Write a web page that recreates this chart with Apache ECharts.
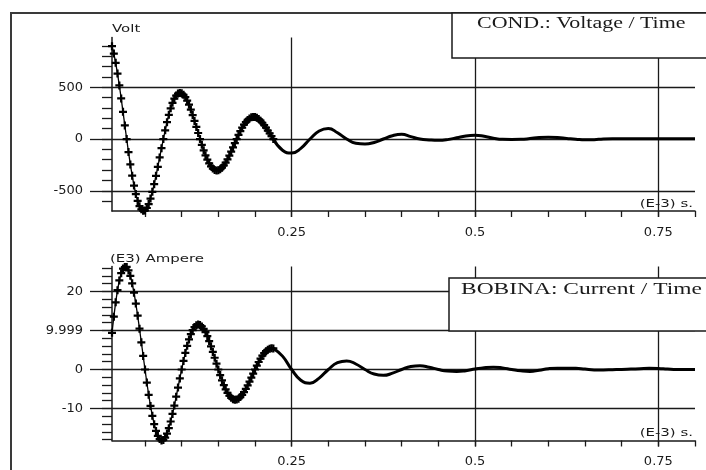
<!DOCTYPE html>
<html><head><meta charset="utf-8">
<script src="https://cdn.jsdelivr.net/npm/echarts@6/dist/echarts.min.js"></script>
<style>html,body{margin:0;padding:0;background:#fff}#c{width:706px;height:470px}</style>
</head><body><div id="c"></div>
<script>
// ---- sampling grid (time in E-3 s) ----
const MARK_T_START = 0.005, MARK_T_STEP = 0.0025;   // part drawn with "+" markers
const TAIL_T_START = 0.225, TAIL_T_STEP = 0.0125;   // later part drawn as thick line

// ---- COND.: Voltage / Time (Volt) ----
const voltMarked = [
  896, 825, 736, 632, 517, 392, 262, 131, 0, -126, -245, -354, -450, -532, -598, -648, -679, -693, -690,
  -666, -628, -575, -510, -436, -355, -268, -178, -88, 0, 84, 163, 234, 296, 349, 390, 420, 439, 445, 441,
  427, 404, 371, 331, 284, 231, 175, 117, 58, 0, -56, -109, -157, -199, -235, -264, -285, -298, -304, -302,
  -293, -277, -255, -228, -196, -160, -121, -81, -40, 0, 39, 76, 109, 139, 164, 184, 199, 209, 213, 212,
  205, 193, 177, 157, 134, 109, 82, 55, 27, 0
];
const voltTail = [
  0, -108, -136, -90, 0, 78, 102, 60, 0, -41, -48, -33, 0, 32, 45, 23, 0, -9, -13, -6,
  12, 30, 36, 26, 8, -3, -4, -3, 4, 14, 16, 14, 6, -2, -8, -6, 1, 3, 3, 2,
  2, 3, 3, 2, 2, 2, 2
];

// ---- BOBINA: Current / Time ((E3) Ampere) ----
const ampMarked = [
  9.39, 13.54, 17.21, 20.33, 22.83, 24.68, 25.86, 26.25, 26.3, 25.4, 24.01, 22.08, 19.68, 16.89, 13.78, 10.45, 6.98, 3.47, 0,
  -3.34, -6.48, -9.34, -11.87, -14.02, -15.75, -17.03, -17.84, -18.18, -18.07, -17.44, -16.41, -15.03, -13.33, -11.39, -9.25, -6.98, -4.64, -2.3, 0,
  2.19, 4.24, 6.08, 7.69, 9.04, 10.11, 10.89, 11.36, 11.53, 11.4, 11.04, 10.42, 9.58, 8.53, 7.3, 5.95, 4.51, 3.01, 1.49, 0,
  -1.44, -2.78, -4.01, -5.09, -6.0, -6.73, -7.27, -7.61, -7.75, -7.7, -7.47, -7.07, -6.5, -5.8, -4.99, -4.07, -3.09, -2.07, -1.03, 0,
  0.99, 1.92, 2.78, 3.53, 4.17, 4.69, 5.08, 5.32, 5.43, 5.4
];
const ampTail = [
  5.4, 3.43, 0, -2.76, -3.5, -2.2, 0, 1.75, 2.2, 1.41, 0, -1.17, -1.5, -0.94, 0, 0.75, 0.94, 0.57, 0, -0.41,
  -0.5, -0.3, 0.1, 0.45, 0.6, 0.4, 0, -0.35, -0.5, -0.2, 0.2, 0.35, 0.35, 0.3, 0.1, -0.1, -0.1, -0.05, 0, 0.1,
  0.2, 0.3, 0.25, 0.1, 0, 0, 0
];

// ---- axes ----
const X_MIN = 0.005, X_MAX = 0.8;
const xMinorTicks = [0.05,0.1,0.15,0.2,0.25,0.3,0.35,0.4,0.45,0.5,0.55,0.6,0.65,0.7,0.75,0.8];
const xMajorTicks = [0.25, 0.5, 0.75];
const xTickLabels = ['0.25', '0.5', '0.75'];
const V_MIN = -695, V_MAX = 980;
const voltMinorTicks = [-600,-500,-400,-300,-200,-100,0,100,200,300,400,500,600,700,800,900];
const voltMajorTicks = [-500, 0, 500];
const voltTickLabels = ['-500', '0', '500'];
const A_MIN = -18.2, A_MAX = 26.4;
const ampMinorTicks = [-18,-16,-14,-12,-10,-8,-6,-4,-2,0,2,4,6,8,10,12,14,16,18,20,22,24,26];
const ampMajorTicks = [-10, 0, 9.999, 20];
const ampTickLabels = ['-10', '0', '9.999', '20'];

const INK = '#1a1a1a';
const SANS = 'DejaVu Sans';
const SERIF = 'Liberation Serif';
const PLUS = 'path://M3.6,0H6.4V3.6H10V6.4H6.4V10H3.6V6.4H0V3.6H3.6Z';

function pair(t0, dt, vals) {
  return vals.map((v, i) => [+(t0 + i * dt).toFixed(5), v]);
}
function labelFor(vals, labels) {
  return function (v) {
    for (let i = 0; i < vals.length; i++) if (Math.abs(vals[i] - v) < 1e-6) return labels[i];
    return '';
  };
}
function xMinor(grid) {
  return { type: 'value', gridIndex: grid, position: 'bottom', min: X_MIN, max: X_MAX,
    axisLine: { show: true, onZero: false, lineStyle: { color: INK, width: 1.5 } },
    axisTick: { show: true, inside: false, length: 6, customValues: xMinorTicks, lineStyle: { color: INK, width: 1.3 } },
    axisLabel: { show: false }, splitLine: { show: false } };
}
function xMajor(grid) {
  return { type: 'value', gridIndex: grid, position: 'bottom', min: X_MIN, max: X_MAX,
    axisLine: { show: false, onZero: false },
    axisTick: { show: true, inside: false, length: 6, customValues: xMajorTicks, lineStyle: { color: INK, width: 1.3 } },
    axisLabel: { show: true, customValues: xMajorTicks, margin: 15, color: INK, fontFamily: SANS, fontSize: 13,
      formatter: labelFor(xMajorTicks, xTickLabels) },
    splitLine: { show: true, lineStyle: { color: INK, width: 1.3 } } };
}
function yMinor(grid, min, max, ticks) {
  return { type: 'value', gridIndex: grid, position: 'left', min: min, max: max,
    axisLine: { show: true, onZero: false, lineStyle: { color: INK, width: 1.5 } },
    axisTick: { show: true, inside: false, length: 10, customValues: ticks, lineStyle: { color: INK, width: 1.3 } },
    axisLabel: { show: false }, splitLine: { show: false } };
}
function yMajor(grid, min, max, ticks, labels) {
  return { type: 'value', gridIndex: grid, position: 'left', min: min, max: max,
    axisLine: { show: false, onZero: false },
    axisTick: { show: true, inside: false, length: 22, customValues: ticks, lineStyle: { color: INK, width: 1.3 } },
    axisLabel: { show: true, customValues: ticks, margin: 29, color: INK, fontFamily: SANS, fontSize: 13,
      formatter: labelFor(ticks, labels) },
    splitLine: { show: true, lineStyle: { color: INK, width: 1.3 } } };
}
function markedSeries(xi, yi, data) {
  return { type: 'line', xAxisIndex: xi, yAxisIndex: yi, data: data, symbol: PLUS, symbolSize: 8,
    showSymbol: true, showAllSymbol: true, clip: false, animation: false, z: 3,
    itemStyle: { color: '#000' }, lineStyle: { color: '#000', width: 1.3 } };
}
function tailSeries(xi, yi, data) {
  return { type: 'line', xAxisIndex: xi, yAxisIndex: yi, data: data, symbol: 'none', showSymbol: false,
    smooth: true, animation: false, z: 3, lineStyle: { color: '#000', width: 3 } };
}
function label(text, x, y, align) {
  const a = align || 'left';
  return { type: 'text', z: 101, x: x, y: y, scaleX: 1.36,
    style: { text: text, fill: INK, fontFamily: SANS, fontSize: 11, align: a, verticalAlign: 'middle',
      textAlign: a, textVerticalAlign: 'middle' } };
}

const chart = echarts.init(document.getElementById('c'), null, { renderer: 'canvas' });
chart.setOption({
  backgroundColor: '#ffffff',
  animation: false,
  grid: [
    { left: 112, top: 37.5, width: 583, height: 173.5, containLabel: false, outerBoundsMode: 'none' },
    { left: 112, top: 266.5, width: 583, height: 174, containLabel: false, outerBoundsMode: 'none' }
  ],
  xAxis: [xMinor(0), xMajor(0), xMinor(1), xMajor(1)],
  yAxis: [
    yMinor(0, V_MIN, V_MAX, voltMinorTicks), yMajor(0, V_MIN, V_MAX, voltMajorTicks, voltTickLabels),
    yMinor(1, A_MIN, A_MAX, ampMinorTicks), yMajor(1, A_MIN, A_MAX, ampMajorTicks, ampTickLabels)
  ],
  series: [
    markedSeries(0, 0, pair(MARK_T_START, MARK_T_STEP, voltMarked)),
    tailSeries(0, 0, pair(TAIL_T_START, TAIL_T_STEP, voltTail)),
    markedSeries(2, 2, pair(MARK_T_START, MARK_T_STEP, ampMarked)),
    tailSeries(2, 2, pair(TAIL_T_START, TAIL_T_STEP, ampTail))
  ],
  graphic: [
    { type: 'rect', z: 90, shape: { x: 11, y: 13, width: 900, height: 700 },
      style: { fill: 'none', stroke: '#3a3a3a', lineWidth: 2 } },
    { type: 'rect', z: 100, shape: { x: 452, y: 13, width: 400, height: 45 },
      style: { fill: '#ffffff', stroke: INK, lineWidth: 1.5 } },
    { type: 'text', z: 101, x: 477, y: 24, scaleX: 1.33,
      style: { text: 'COND.: Voltage / Time', fill: INK, fontFamily: SERIF, fontSize: 16.5,
        align: 'left', verticalAlign: 'middle', textAlign: 'left', textVerticalAlign: 'middle' } },
    { type: 'rect', z: 100, shape: { x: 449, y: 278, width: 400, height: 53 },
      style: { fill: '#ffffff', stroke: INK, lineWidth: 1.5 } },
    { type: 'text', z: 101, x: 461, y: 289, scaleX: 1.34,
      style: { text: 'BOBINA: Current / Time', fill: INK, fontFamily: SERIF, fontSize: 17.5,
        align: 'left', verticalAlign: 'middle', textAlign: 'left', textVerticalAlign: 'middle' } },
    label('Volt', 112, 29),
    label('(E3) Ampere', 110, 259),
    label('(E-3) s.', 693, 204, 'right'),
    label('(E-3) s.', 693, 433, 'right')
  ]
});
</script>
</body></html>
